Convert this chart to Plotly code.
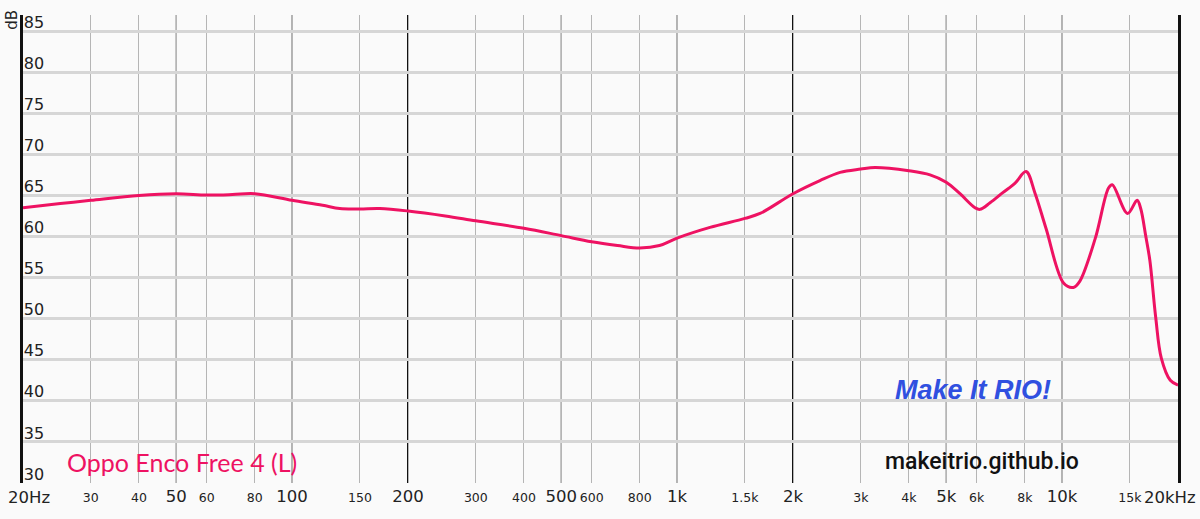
import math
import plotly.graph_objects as go

# ---- data ----
freq_hz = [20, 25, 30, 40, 50, 60, 70, 80, 100, 120, 133, 150, 169, 200, 250, 300,
           400, 500, 600, 700, 800, 900, 1000, 1217, 1500, 1642, 2000, 2350, 2650,
           3000, 3266, 4000, 4540, 5000, 5430, 5940, 6120, 6500, 7000, 7550, 8060,
           8500, 9080, 10100, 10700, 11100, 12200, 13200, 13500, 14800, 15660,
           16000, 16500, 16900, 17500, 18100, 19100, 20000]
spl_db = [63.5, 64.0, 64.4, 65.0, 65.2, 65.05, 65.1, 65.2, 64.4, 63.8, 63.4, 63.35,
          63.4, 63.1, 62.5, 61.9, 61.0, 60.1, 59.35, 58.9, 58.6, 58.9, 59.8, 61.1,
          62.2, 62.8, 65.2, 66.8, 67.8, 68.2, 68.4, 68.0, 67.5, 66.6, 65.2, 63.5,
          63.3, 64.1, 65.3, 66.5, 67.9, 65.3, 61.0, 54.3, 53.8, 54.5, 59.8, 65.9,
          66.3, 62.8, 64.4, 63.4, 60.0, 57.1, 50.2, 45.2, 42.5, 41.9]

series_name = "Oppo Enco Free 4 (L)"

x_range_hz = [20, 20000]
x_tick_vals = [20, 30, 40, 50, 60, 80, 100, 150, 200, 300, 400, 500, 600, 800,
               1000, 1500, 2000, 3000, 4000, 5000, 6000, 8000, 10000, 15000, 20000]
x_tick_labels = ["20Hz", "30", "40", "50", "60", "80", "100", "150", "200", "300",
                 "400", "500", "600", "800", "1k", "1.5k", "2k", "3k", "4k", "5k",
                 "6k", "8k", "10k", "15k", "20kHz"]
x_big_labels = ["20Hz", "50", "100", "200", "500", "1k", "2k", "5k", "10k", "20kHz"]
x_edge_labels = {"20Hz": 6, "20kHz": -8}   # edge labels, drawn nudged inward
dark_grid_freqs = [50, 100, 500, 1000, 5000, 10000]
black_grid_freqs = [200, 2000]

y_tick_vals = [30, 35, 40, 45, 50, 55, 60, 65, 70, 75, 80, 85]
y_range = [30, 86.95]

# ---- styling ----
curve_color = "#ee1262"
bg = "#fafafa"

ticktext = []
edge_annotations = []
for v, t in zip(x_tick_vals, x_tick_labels):
    if t in x_edge_labels:
        ticktext.append("")
        edge_annotations.append(dict(
            text=t, xref="x", yref="paper", x=math.log10(v), y=0,
            xanchor="center", yanchor="top", yshift=-3, xshift=x_edge_labels[t],
            showarrow=False, font=dict(size=16.5, color="#222222", family="DejaVu Sans")))
    elif t in x_big_labels:
        ticktext.append(f'<span style="font-size:16.5px">{t}</span>')
    else:
        ticktext.append(f'<span style="font-size:12.5px">{t}</span>')

fig = go.Figure()
fig.add_trace(go.Scatter(
    x=freq_hz, y=spl_db, mode="lines", name=series_name,
    line=dict(color=curve_color, width=3, shape="spline", smoothing=1.0),
    hoverinfo="skip", showlegend=False,
))

shapes = []
for f in dark_grid_freqs:
    shapes.append(dict(type="line", xref="x", yref="paper", x0=f, x1=f, y0=0, y1=1,
                       line=dict(color="#4a4a4a", width=1), layer="between"))
for f in black_grid_freqs:
    shapes.append(dict(type="line", xref="x", yref="paper", x0=f, x1=f, y0=0, y1=1,
                       line=dict(color="#111111", width=2), layer="between"))

fig.update_layout(
    width=1200, height=519,
    margin=dict(l=23, r=22, t=15, b=36, autoexpand=False),
    paper_bgcolor=bg, plot_bgcolor=bg,
    shapes=shapes,
    font=dict(family="DejaVu Sans", color="#222222"),
    xaxis=dict(
        type="log", range=[math.log10(x_range_hz[0]), math.log10(x_range_hz[1])],
        tickvals=x_tick_vals, ticktext=ticktext,
        tickfont=dict(size=16, color="#222222", family="DejaVu Sans"),
        showgrid=True, gridcolor="#b5b5b5", gridwidth=1.2,
        ticks="", showline=False, zeroline=False,
        ticklabelstandoff=2, automargin=False, ticklabeloverflow="allow",
    ),
    yaxis=dict(
        range=y_range, tickvals=y_tick_vals,
        ticklabelposition="inside", ticklabelshift=-9, ticklabelstandoff=1,
        ticklabeloverflow="allow", automargin=False,
        tickfont=dict(size=16, color="#222222", family="DejaVu Sans"),
        showgrid=True, gridcolor="#d6d6d6", gridwidth=3,
        showline=True, linecolor="#111111", linewidth=3, mirror=True,
        ticks="", zeroline=False,
    ),
    annotations=[
        dict(text="dB", xref="paper", yref="paper", x=-0.0095, y=0.99,
             xanchor="center", yanchor="middle", textangle=-90, showarrow=False,
             font=dict(size=15, color="#222222", family="DejaVu Sans")),
        dict(text=series_name, xref="paper", yref="paper", x=0.0364, y=0.045,
             xanchor="left", yanchor="middle", showarrow=False,
             font=dict(size=25, color=curve_color, family="Lato")),
        dict(text="Make It RIO!", xref="paper", yref="paper", x=0.8225, y=0.199,
             xanchor="center", yanchor="middle", showarrow=False,
             font=dict(size=27, color="#3050e0", family="Liberation Sans",
                       weight="bold", style="italic")),
        dict(text="makeitrio.github.io", xref="paper", yref="paper", x=0.830, y=0.045,
             xanchor="center", yanchor="middle", showarrow=False,
             font=dict(size=23, color="#111111", family="Roboto", weight=500)),
    ] + edge_annotations,
)

fig.write_html("out.html", config={"displayModeBar": False},
               post_script="document.body.style.margin='0';")
